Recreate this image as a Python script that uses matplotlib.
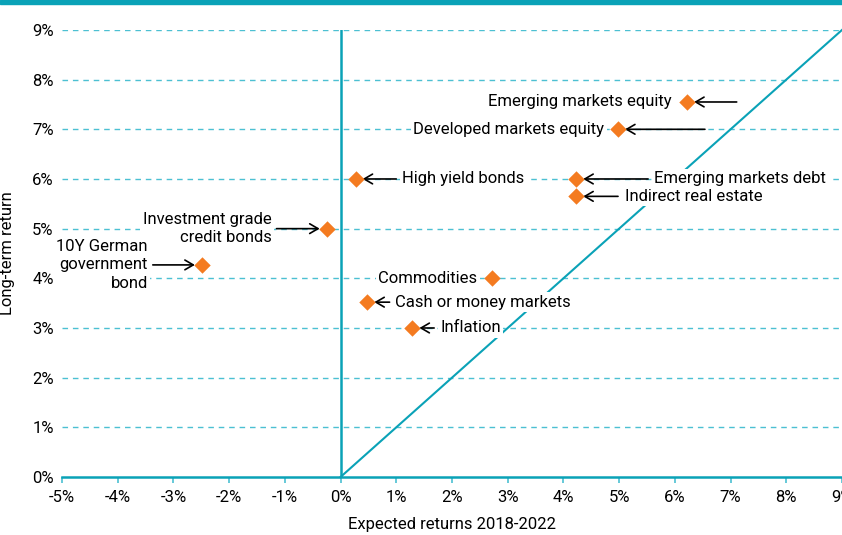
import matplotlib
matplotlib.use("Agg")
import matplotlib.pyplot as plt
from matplotlib.patches import Rectangle

plt.rcParams["font.family"] = ["Roboto", "DejaVu Sans"]

# values (percent)
assets = [
    "Emerging markets equity",
    "Developed markets equity",
    "High yield bonds",
    "Emerging markets debt",
    "Indirect real estate",
    "Investment grade\ncredit bonds",
    "10Y German\ngovernment\nbond",
    "Commodities",
    "Cash or money markets",
    "Inflation",
]
expected_returns = [6.22, 4.98, 0.27, 4.23, 4.23, -0.25, -2.49, 2.72, 0.48, 1.29]
long_term_returns = [7.55, 7.0, 6.0, 6.0, 5.65, 5.0, 4.27, 4.0, 3.52, 3.0]

x_ticks = list(range(-5, 10))
y_ticks = list(range(0, 10))

# label layout: (text x, alignment, arrow tail x or None)
label_layout = [
    (5.94, "right", 7.11),
    (4.73, "right", 6.54),
    (1.11, "left", 1.00),
    (5.63, "left", 5.52),
    (5.10, "left", 4.98),
    (-1.24, "right", -1.15),
    (-3.46, "right", -3.37),
    (2.46, "right", None),
    (0.97, "left", 0.88),
    (1.79, "left", 1.68),
]

TEAL = "#0aa2b7"
GRID = "#4cc0d2"
ORANGE = "#f47b20"
FS = 12

fig = plt.figure(figsize=(8.42, 5.35), dpi=100)
fig.patches.append(Rectangle((0, 0.993), 1, 0.007, transform=fig.transFigure,
                             color=TEAL, zorder=10))
ax = fig.add_axes([0.0736, 0.1084, 0.9264, 0.8356])

ax.set_xlim(-5, 9)
ax.set_ylim(0, 9)
for s in ax.spines.values():
    s.set_visible(False)

for y in y_ticks[1:]:
    ax.axhline(y, color=GRID, lw=1, ls=(0, (4, 3.5)), zorder=1)
ax.axhline(0, color=TEAL, lw=1.8, zorder=2, clip_on=False)
ax.plot([0, 0], [0, 9], color=TEAL, lw=1.8, zorder=2)
ax.plot([0, 9], [0, 9], color=TEAL, lw=1.5, zorder=2, clip_on=False)

ax.set_xticks(x_ticks)
ax.set_xticklabels([f"{v}%" for v in x_ticks])
ax.set_yticks(y_ticks)
ax.set_yticklabels([f"{v}%" for v in y_ticks])
ax.tick_params(axis="x", length=4, width=1.2, color=GRID, pad=5, labelsize=FS)
ax.tick_params(axis="y", length=0, pad=6, labelsize=FS)

ax.set_xlabel("Expected returns 2018-2022", fontsize=FS, labelpad=9)
ax.set_ylabel("Long-term return", fontsize=FS)
ax.yaxis.set_label_coords(-0.06, 0.5)

ax.scatter(expected_returns, long_term_returns, marker="D", s=70,
           color=ORANGE, zorder=5, clip_on=False, linewidths=0)

for name, x, y, (tx, ha, tail) in zip(assets, expected_returns,
                                      long_term_returns, label_layout):
    ax.text(tx, y, name, ha=ha, va="center", fontsize=FS, linespacing=1.3,
            multialignment="right" if ha == "right" else "left", zorder=4,
            bbox=dict(boxstyle="square,pad=0.15", fc="white", ec="none"))
    if tail is not None:
        ax.annotate("", xy=(x, y), xytext=(tail, y), zorder=4,
                    arrowprops=dict(arrowstyle="->,head_length=0.6,head_width=0.35",
                                    color="black", lw=1.2,
                                    shrinkA=0, shrinkB=5))

fig.savefig("out.png", dpi=100)
